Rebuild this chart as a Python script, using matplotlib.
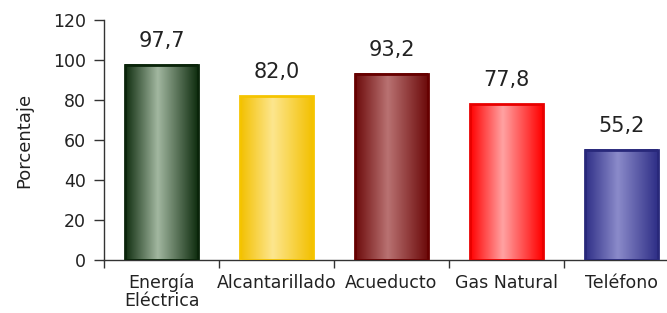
import numpy as np
import matplotlib
matplotlib.use('Agg')
import matplotlib.pyplot as plt
from matplotlib.colors import LinearSegmentedColormap

categorias = ['Energía\nEléctrica', 'Alcantarillado', 'Acueducto', 'Gas Natural', 'Teléfono']
porcentaje = [97.7, 82.0, 93.2, 77.8, 55.2]

# dark edge / light centre / outline for each cylinder-like bar
oscuros = ['#0f2d0f', '#f3c000', '#6c0a0a', '#ff0000', '#2e2e86']
claros = ['#a2b7a0', '#fde68e', '#b97272', '#ffa2a2', '#8b8bca']
bordes = ['#0a240a', '#f5c400', '#660000', '#e80000', '#28287a']

fig = plt.figure(figsize=(6.67, 3.13), dpi=100)
ax = fig.add_axes([104/667, 1 - 260/313, 575/667, 240/313])

x = np.arange(len(categorias))
bars = ax.bar(x, porcentaje, width=0.63, color='none', edgecolor=bordes,
              linewidth=2, zorder=3)

grad = np.linspace(0, 1, 256).reshape(1, -1)
for b, c1, c2 in zip(bars, oscuros, claros):
    cmap = LinearSegmentedColormap.from_list('g', [(0, c1), (0.45, c2), (1, c1)])
    ax.imshow(grad, cmap=cmap, aspect='auto', zorder=2,
              extent=(b.get_x(), b.get_x() + b.get_width(), 0, b.get_height()))
    ax.text(b.get_x() + b.get_width() / 2, b.get_height() + 7,
            f'{b.get_height():.1f}'.replace('.', ','),
            ha='center', va='bottom', fontsize=15, color='#222222')

ax.set_xlim(-0.5, len(categorias) - 0.5)
ax.set_ylim(0, 120)
ax.set_yticks(range(0, 121, 20))
ax.set_xticks(x)
ax.set_xticklabels(categorias, fontsize=12.5, color='#222222', linespacing=1.0)
ax.set_xticks(np.arange(-0.5, len(categorias)), minor=True)
ax.tick_params(axis='x', which='major', length=0, pad=10)
ax.tick_params(axis='x', which='minor', length=6, width=1, color='#333333')
ax.tick_params(axis='y', length=7, width=1, color='#333333', labelsize=12.5,
               labelcolor='#222222', pad=6)
ax.set_ylabel('Porcentaje', fontsize=13, color='#222222', labelpad=14)

for s in ['top', 'right']:
    ax.spines[s].set_visible(False)
for s in ['left', 'bottom']:
    ax.spines[s].set_color('#333333')
    ax.spines[s].set_linewidth(1)
ax.spines['bottom'].set_clip_on(False)

fig.savefig('out.png', dpi=100)
